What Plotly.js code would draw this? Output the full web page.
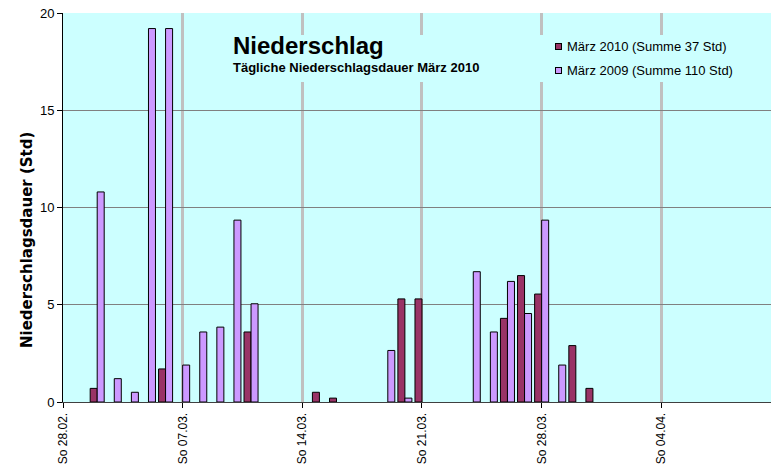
<!DOCTYPE html>
<html>
<head>
<meta charset="utf-8">
<script src="https://cdn.plot.ly/plotly-3.0.1.min.js"></script>
<style>html,body{margin:0;padding:0;background:#fff;}#chart{width:771px;height:472px;}</style>
</head>
<body>
<div id="chart"></div>
<script>
// Days of March 2010
const days = [
  '2010-03-01','2010-03-02','2010-03-03','2010-03-04','2010-03-05','2010-03-06','2010-03-07',
  '2010-03-08','2010-03-09','2010-03-10','2010-03-11','2010-03-12','2010-03-13','2010-03-14',
  '2010-03-15','2010-03-16','2010-03-17','2010-03-18','2010-03-19','2010-03-20','2010-03-21',
  '2010-03-22','2010-03-23','2010-03-24','2010-03-25','2010-03-26','2010-03-27','2010-03-28',
  '2010-03-29','2010-03-30','2010-03-31'
];
// Daily precipitation duration (hours)
const maerz2010 = [0, 0.7, 0, 0, 0, 1.7, 0, 0, 0, 0, 3.6, 0, 0, 0, 0.5, 0.2, 0, 0, 0, 5.3, 5.3,
                   0, 0, 0, 0, 4.3, 6.5, 5.55, 0, 2.9, 0.7];
const maerz2009 = [0, 10.8, 1.2, 0.5, 19.2, 19.2, 1.9, 3.6, 3.85, 9.35, 5.05, 0, 0, 0, 0, 0, 0, 0, 2.65, 0.2, 0,
                   0, 0, 6.7, 3.6, 6.2, 4.55, 9.35, 1.9, 0, 0];
const seriesNames = ['März 2010 (Summe 37 Std)', 'März 2009 (Summe 110 Std)'];
const seriesColors = ['#993366', '#CC99FF'];
const tickDates = ['2010-02-28','2010-03-07','2010-03-14','2010-03-21','2010-03-28','2010-04-04'];
const tickLabels = ['So 28.02.','So 07.03.','So 14.03.','So 21.03.','So 28.03.','So 04.04.'];
const chartTitle = 'Niederschlag';
const chartSubtitle = 'Tägliche Niederschlagsdauer März 2010';
const yTitle = 'Niederschlagsdauer (Std)';

const FONT = 'Arial, "Liberation Sans", sans-serif';
const hideZero = arr => arr.map(v => (v === 0 ? null : v));

const traces = [maerz2010, maerz2009].map((vals, i) => ({
  type: 'bar', x: days, y: hideZero(vals), name: seriesNames[i],
  marker: {color: seriesColors[i], line: {color: '#000000', width: 1}},
  hoverinfo: 'skip', showlegend: false
}));

// layout helpers: convert pixel positions to paper fractions
const L = 63, R = 0, T = 13, B = 70, W = 771, H = 472;
const px = x => (x - L) / (W - L - R);
const py = y => (H - B - y) / (H - B - T);

const annotations = [
  // cyan panel behind title/legend (covers vertical grid lines there)
  {xref:'paper', yref:'paper', x: px(226), y: py(58.5), xanchor:'left', yanchor:'middle',
   text:' ', showarrow:false, width: 520, height: 47, borderpad: 0, borderwidth: 0,
   bgcolor:'#CCFFFF', font:{size: 1}},
  {xref:'paper', yref:'paper', x: px(231), y: py(45), xanchor:'left', yanchor:'middle',
   text:'<b>' + chartTitle + '</b>', showarrow:false, font:{family: FONT, size: 24, color:'#000'}},
  {xref:'paper', yref:'paper', x: px(231), y: py(67), xanchor:'left', yanchor:'middle',
   text:'<b>' + chartSubtitle + '</b>', showarrow:false, font:{family: FONT, size: 13, color:'#000'}},
  {xref:'paper', yref:'paper', x: px(27), y: py(240), xanchor:'center', yanchor:'middle', textangle: -90,
   text:'<b>' + yTitle + '</b>', showarrow:false,
   font:{family: '"DejaVu Sans", Verdana, sans-serif', size: 15, color:'#000'}}
];
const legendY = [46.5, 70];
seriesNames.forEach((name, i) => {
  annotations.push({xref:'paper', yref:'paper', x: px(555), y: py(legendY[i]), xanchor:'left', yanchor:'middle',
    text:' ', showarrow:false, width: 5, height: 5, borderpad: 0, borderwidth: 1,
    bordercolor:'#000', bgcolor: seriesColors[i], font:{size: 1}});
  annotations.push({xref:'paper', yref:'paper', x: px(565), y: py(legendY[i]), xanchor:'left', yanchor:'middle',
    text: name, showarrow:false, font:{family: FONT, size: 13, color:'#000'}});
});

const layout = {
  width: W, height: H,
  margin: {l: L, r: R, t: T, b: B},
  paper_bgcolor: '#FFFFFF',
  plot_bgcolor: '#CCFFFF',
  font: {family: FONT, size: 12, color: '#000'},
  barmode: 'group',
  bargap: 0.18,
  bargroupgap: 0,
  showlegend: false,
  xaxis: {
    type: 'date',
    range: ['2010-02-28', '2010-04-10 10:00'],
    tickmode: 'array', tickvals: tickDates, ticktext: tickLabels,
    tickangle: -90, tickfont: {family: FONT, size: 12},
    ticks: 'outside', ticklen: 5, tickcolor: '#000',
    showgrid: true, gridcolor: '#C0C0C0', gridwidth: 3,
    showline: true, linecolor: '#404040', linewidth: 1,
    zeroline: false, fixedrange: true
  },
  yaxis: {
    range: [0, 20], dtick: 5, tick0: 0,
    ticks: 'outside', ticklen: 5, tickcolor: '#000',
    tickfont: {family: FONT, size: 13},
    showgrid: true, gridcolor: '#808080', gridwidth: 1,
    showline: true, linecolor: '#000', linewidth: 1,
    zeroline: false, fixedrange: true
  },
  annotations: annotations
};

Plotly.newPlot('chart', traces, layout, {displayModeBar: false, staticPlot: true});
</script>
</body>
</html>
